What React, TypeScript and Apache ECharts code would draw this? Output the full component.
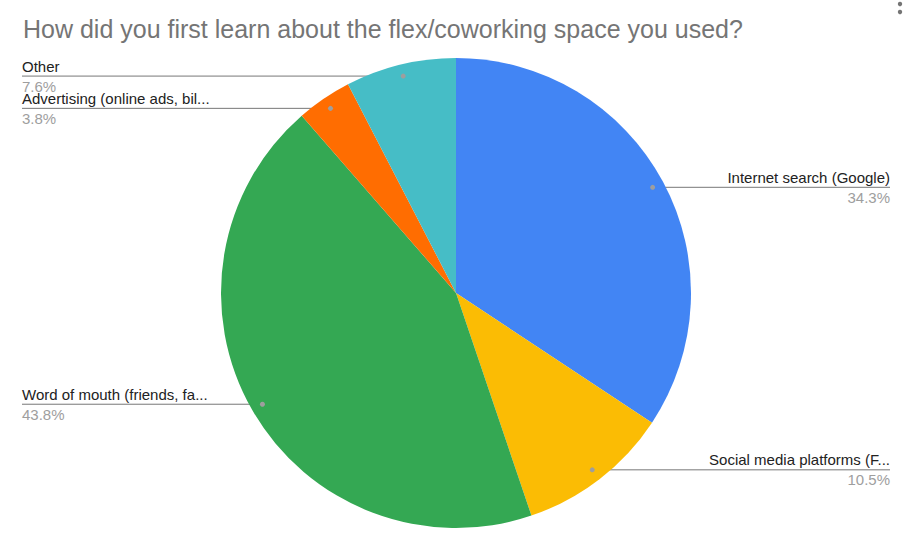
import { useRef, useEffect } from 'react'
import * as echarts from 'echarts'

const TITLE = 'How did you first learn about the flex/coworking space you used?'
const categories = [
  'Internet search (Google)',
  'Social media platforms (F...',
  'Word of mouth (friends, fa...',
  'Advertising (online ads, bil...',
  'Other',
]
const values = [34.3, 10.5, 43.8, 3.8, 7.6]
const colors = ['#4285F4', '#FBBC04', '#34A853', '#FF6D01', '#46BDC6']

const CX = 456
const CY = 293
const R = 235
const DOT_R = R * 0.95
const LEFT_EDGE = 22
const RIGHT_EDGE = 890
const FONT = 'Arial, "Liberation Sans", sans-serif'

// dot position in the middle of each slice (clockwise from 12 o'clock)
function dotPoints() {
  const total = values.reduce((a, b) => a + b, 0)
  let acc = 0
  return values.map(v => {
    const mid = ((acc + v / 2) / total) * Math.PI * 2
    acc += v
    return [CX + DOT_R * Math.sin(mid), CY - DOT_R * Math.cos(mid)]
  })
}

export default function App() {
  const chartRef = useRef<HTMLDivElement>(null)

  useEffect(() => {
    if (!chartRef.current) return
    const chart = echarts.init(chartRef.current, undefined, { renderer: 'svg' })
    const dots = dotPoints()
    const isRight = (i: number) => dots[i][0] > CX

    chart.setOption({
      animation: false,
      title: {
        text: TITLE,
        left: 18,
        top: 11,
        textStyle: {
          fontFamily: FONT,
          fontSize: 25,
          fontWeight: 'normal',
          color: '#757575',
        },
      },
      graphic: [
        ...dots.map(([x, y]) => ({
          type: 'circle',
          z: 100,
          shape: { cx: x, cy: y, r: 2.5 },
          style: { fill: '#9e9e9e' },
        })),
        { type: 'circle', shape: { cx: 900, cy: 4, r: 2.2 }, style: { fill: '#757575' } },
        { type: 'circle', shape: { cx: 900, cy: 12, r: 2.2 }, style: { fill: '#757575' } },
      ],
      series: [
        {
          type: 'pie',
          center: [CX, CY],
          radius: R,
          startAngle: 90,
          clockwise: true,
          avoidLabelOverlap: false,
          itemStyle: { borderWidth: 0 },
          data: categories.map((name, i) => ({
            name,
            value: values[i],
            itemStyle: { color: colors[i] },
          })),
          label: {
            show: true,
            position: 'outside',
            fontFamily: FONT,
            formatter: (p: any) => {
              const s = isRight(p.dataIndex) ? 'r' : 'l'
              return `{n${s}|${p.name}}\n{p${s}|${values[p.dataIndex].toFixed(1)}%}`
            },
            rich: {
              nl: { fontFamily: FONT, fontSize: 15, color: '#222', lineHeight: 20, align: 'left' },
              pl: { fontFamily: FONT, fontSize: 15, color: '#9e9e9e', lineHeight: 20, align: 'left' },
              nr: { fontFamily: FONT, fontSize: 15, color: '#222', lineHeight: 20, align: 'right' },
              pr: { fontFamily: FONT, fontSize: 15, color: '#9e9e9e', lineHeight: 20, align: 'right' },
            },
          },
          labelLine: {
            show: true,
            lineStyle: { color: '#777', width: 1 },
          },
          labelLayout: (p: any) => {
            const i = p.dataIndex
            const [dx, dy] = dots[i]
            const right = isRight(i)
            const ex = right ? RIGHT_EDGE : LEFT_EDGE
            return {
              x: ex,
              y: dy,
              align: right ? 'right' : 'left',
              verticalAlign: 'middle',
              labelLinePoints: [
                [dx, dy],
                [dx, dy],
                [ex, dy],
              ],
            }
          },
          emphasis: { disabled: true },
        },
      ],
    })

    return () => {
      chart.dispose()
    }
  }, [])

  return (
    <div
      ref={chartRef}
      style={{ position: 'absolute', left: 0, top: 0, width: 905, height: 548, background: '#fff' }}
    />
  )
}
